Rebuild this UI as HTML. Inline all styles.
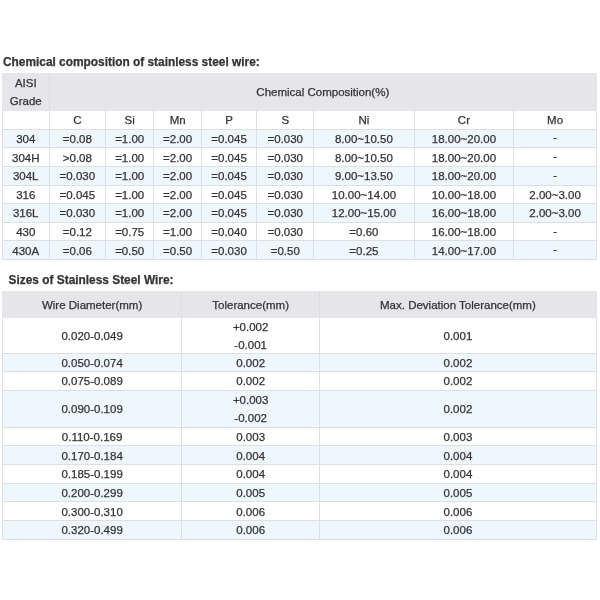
<!DOCTYPE html>
<html><head><meta charset="utf-8"><title>Stainless steel wire</title><style>
html{margin:0;padding:0;background:#fff}
body{margin:0;padding:0;width:600px;height:600px;overflow:hidden;position:relative;will-change:transform;
  font-family:"Liberation Sans", Arial, sans-serif;font-size:11.5px;color:#333;-webkit-text-stroke:0.25px #333}
h3{position:absolute;margin:0;font-weight:bold;font-size:11.88px;white-space:nowrap;line-height:16px}
table{position:absolute;border-collapse:collapse;table-layout:fixed;border-spacing:0;font-size:11.5px}
td,th{padding:2px 0 0 0;text-align:center;vertical-align:middle;white-space:nowrap;font-weight:normal;
  border:1px solid #dce0e5;line-height:13px;overflow:visible}
tr.b td{background:#eff7fe}
tr.w td{background:#fff}
tr.hd th{background:#e5e5ea;border-color:#e5e5ea}
.t1 tr.hd th.cc{padding-top:1.2px}
.t1 tr.hd th.g{border-right-color:#dcdce2;line-height:17.5px;padding-top:1px}
.t2 tr.hd th{border-right-color:#dcdce2}
.t2 tr.hd th:last-child{border-right-color:#e5e5ea}
td.dbl{padding:0;line-height:10px}
td.dbl span{display:block;margin:-2px 0;line-height:18.3px;position:relative;top:0.6px}
.d{position:relative;top:-1.5px}
</style></head><body>
<h3 style="left:3px;top:54px">Chemical composition of stainless steel wire:</h3>
<table class="t1" style="left:1.8px;top:73px;width:595.1px">
<colgroup><col style="width:46.9px"><col style="width:56.3px"><col style="width:48.4px"><col style="width:47.5px"><col style="width:55.4px"><col style="width:57px"><col style="width:100.3px"><col style="width:99.7px"><col style="width:82.6px"></colgroup>
<tr class="hd" style="height:37.1px"><th class="g">AISI<br>Grade</th><th colspan="8" class="cc">Chemical Composition(%)</th></tr>
<tr class="w" style="height:18.5px"><td></td><td>C</td><td>Si</td><td>Mn</td><td>P</td><td>S</td><td>Ni</td><td>Cr</td><td>Mo</td></tr>
<tr class="b" style="height:18.643px"><td>304</td><td>=0.08</td><td>=1.00</td><td>=2.00</td><td>=0.045</td><td>=0.030</td><td>8.00~10.50</td><td>18.00~20.00</td><td><span class=d>-</span></td></tr>
<tr class="w" style="height:18.643px"><td>304H</td><td>&gt;0.08</td><td>=1.00</td><td>=2.00</td><td>=0.045</td><td>=0.030</td><td>8.00~10.50</td><td>18.00~20.00</td><td><span class=d>-</span></td></tr>
<tr class="b" style="height:18.643px"><td>304L</td><td>=0.030</td><td>=1.00</td><td>=2.00</td><td>=0.045</td><td>=0.030</td><td>9.00~13.50</td><td>18.00~20.00</td><td><span class=d>-</span></td></tr>
<tr class="w" style="height:18.643px"><td>316</td><td>=0.045</td><td>=1.00</td><td>=2.00</td><td>=0.045</td><td>=0.030</td><td>10.00~14.00</td><td>10.00~18.00</td><td>2.00~3.00</td></tr>
<tr class="b" style="height:18.643px"><td>316L</td><td>=0.030</td><td>=1.00</td><td>=2.00</td><td>=0.045</td><td>=0.030</td><td>12.00~15.00</td><td>16.00~18.00</td><td>2.00~3.00</td></tr>
<tr class="w" style="height:18.643px"><td>430</td><td>=0.12</td><td>=0.75</td><td>=1.00</td><td>=0.040</td><td>=0.030</td><td>=0.60</td><td>16.00~18.00</td><td><span class=d>-</span></td></tr>
<tr class="b" style="height:18.643px"><td>430A</td><td>=0.06</td><td>=0.50</td><td>=0.50</td><td>=0.030</td><td>=0.50</td><td>=0.25</td><td>14.00~17.00</td><td><span class=d>-</span></td></tr>
</table>
<h3 style="left:8.6px;top:272px">Sizes of Stainless Steel Wire:</h3>
<table class="t2" style="left:1.8px;top:291px;width:595.1px">
<colgroup><col style="width:179.6px"><col style="width:137.5px"><col style="width:277px"></colgroup>
<tr class="hd" style="height:25.5px"><th>Wire Diameter(mm)</th><th>Tolerance(mm)</th><th>Max. Deviation Tolerance(mm)</th></tr>
<tr class="w" style="height:36.7px"><td>0.020-0.049</td><td class=dbl><span>+0.002<br>-0.001</span></td><td>0.001</td></tr>
<tr class="b" style="height:18px"><td>0.050-0.074</td><td>0.002</td><td>0.002</td></tr>
<tr class="w" style="height:18.4px"><td>0.075-0.089</td><td>0.002</td><td>0.002</td></tr>
<tr class="b" style="height:37px"><td>0.090-0.109</td><td class=dbl><span>+0.003<br>-0.002</span></td><td>0.002</td></tr>
<tr class="w" style="height:18.6px"><td>0.110-0.169</td><td>0.003</td><td>0.003</td></tr>
<tr class="b" style="height:18.8px"><td>0.170-0.184</td><td>0.004</td><td>0.004</td></tr>
<tr class="w" style="height:18.6px"><td>0.185-0.199</td><td>0.004</td><td>0.004</td></tr>
<tr class="b" style="height:18.6px"><td>0.200-0.299</td><td>0.005</td><td>0.005</td></tr>
<tr class="w" style="height:18.8px"><td>0.300-0.310</td><td>0.006</td><td>0.006</td></tr>
<tr class="b" style="height:18.6px"><td>0.320-0.499</td><td>0.006</td><td>0.006</td></tr>
</table>
</body></html>
